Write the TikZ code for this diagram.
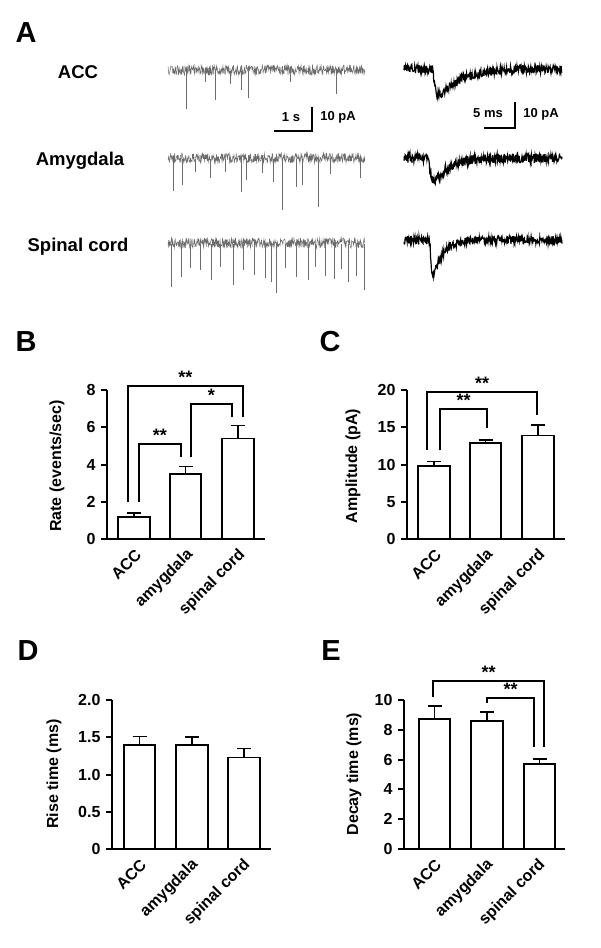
\documentclass[tikz,border=0pt]{standalone}
\usepackage{fontspec}
\setmainfont{Liberation Sans}
\begin{document}
\begin{tikzpicture}[x=1pt,y=-1pt,
  lbl/.style={font=\bfseries\fontsize{29}{31}\selectfont},
  row/.style={font=\bfseries\fontsize{18.5}{20}\selectfont},
  sb/.style={font=\bfseries\fontsize{13}{15}\selectfont},
  tick/.style={font=\bfseries\fontsize{16}{18}\selectfont,anchor=east},
  ylab/.style={font=\bfseries\fontsize{16}{18}\selectfont,rotate=90},
  cat/.style={font=\bfseries\fontsize{16}{18}\selectfont,rotate=45,anchor=east},
  star/.style={font=\bfseries\fontsize{18}{20}\selectfont,anchor=south,inner sep=0pt},
  ax/.style={line width=2pt},
  barl/.style={line width=1.8pt,fill=white},
  brk/.style={line width=1.5pt},
  gtr/.style={gray!85!black,line width=0.5pt},
  btr/.style={black,line width=1.2pt}]
\useasboundingbox (0,0) rectangle (600,948);
\pgfmathsetseed{7}
% ---- panel labels
\node[lbl] (pA) at (26,33) {A};
\node[lbl] (pB) at (26,342) {B};
\node[lbl] (pC) at (330,342) {C};
\node[lbl] (pD) at (28,651) {D};
\node[lbl] (pE) at (331,651) {E};
% ---- row labels
\node[row] (rACC) at (78,72) {ACC};
\node[row] (rAmy) at (80,161) {Amygdala};
\node[row] (rSp) at (78,247) {Spinal cord};
% ---- left traces
\draw[gtr] plot[domain=168:365,samples=500] (\x,{70+10*(rnd-0.5)});
\foreach \a/\d in {186/109,215/100,241/90,248/98,336/94,205/82,290/82,230/84}
  \draw[gtr] (\a,71) -- (\a,\d);
\draw[gtr] plot[domain=168:365,samples=500] (\x,{158+10*(rnd-0.5)});
\foreach \a/\d in {173/191,182/185,241/192,282/210,318/207,296/187,302/185,273/182,246/180,210/178,360/178,195/172,225/172,262/173,330/174}
  \draw[gtr] (\a,159) -- (\a,\d);
\draw[gtr] plot[domain=168:365,samples=500] (\x,{243+10*(rnd-0.5)});
\foreach \a/\d in {171/287,181/277,211/280,233/285,254/275,265/278,276/293,271/282,296/277,308/280,325/276,334/279,348/282,356/276,364/290,190/268,200/270,220/267,243/270,285/268,315/267,341/269}
  \draw[gtr] (\a,244) -- (\a,\d);
% ---- right traces
\draw[btr] plot[domain=404:562,samples=400] (\x,{69+8*(rnd-0.5)+37*exp(-max(\x-433,0)/22)*(1-exp(-max(\x-433,0)/2.5))});
\draw[btr] plot[domain=404:562,samples=400] (\x,{158+9*(rnd-0.5)+40*exp(-max(\x-429,0)/14)*(1-exp(-max(\x-429,0)/2.5))});
\draw[btr] plot[domain=404:562,samples=400] (\x,{240+8*(rnd-0.5)+58*exp(-max(\x-430,0)/9)*(1-exp(-max(\x-430,0)/1.5))});
% ---- scale bars
\coordinate (s1a) at (274,131); \coordinate (s1b) at (312,131); \coordinate (s1c) at (312,107);
\draw[line width=1.5pt] (s1a) -- (s1b) -- (s1c);
\node[sb] (t1s) at (291,117) {1 s};
\node[sb] (t1p) at (338,117) {10 pA};
\coordinate (s2a) at (484,128); \coordinate (s2b) at (515,128); \coordinate (s2c) at (515,102);
\draw[line width=1.5pt] (s2a) -- (s2b) -- (s2c);
\node[sb] (t2s) at (488,113) {5 ms};
\node[sb] (t2p) at (541,114) {10 pA};
% ---- macro for bar
\newcommand\mybar[5]{% left right top err center ; base in \mybase
  \draw[barl] (#1,\mybase) rectangle (#2,#3);
  \draw[line width=1.8pt] (#5,#3) -- (#5,#4) (#5-7,#4) -- (#5+7,#4);}
% ================= B
\def\mybase{539}
\draw[ax] (107,390) -- (107,539) -- (265,539);
\foreach \v/\y in {0/539,2/501.75,4/464.5,6/427.25,8/390}{
  \draw[ax] (101,\y) -- (107,\y); \node[tick] at (99,\y) {\v};}
\mybar{118}{150}{516.6}{512.9}{134}
\mybar{170}{201}{473.8}{466.4}{185.5}
\mybar{222}{254}{438.4}{425.4}{238}
\node[ylab] (yB) at (57,466) {Rate (events/sec)};
\node[cat] at (141,550) {ACC};
\node[cat] at (193,550) {amygdala};
\node[cat] at (245,550) {spinal cord};
\draw[brk] (128,502) -- (128,386) -- (243,386) -- (243,417);
\node[star] at (185.5,384) {**};
\draw[brk] (139,502) -- (139,444) -- (181,444) -- (181,457);
\node[star] at (160,442) {**};
\draw[brk] (191,457) -- (191,404) -- (232,404) -- (232,417);
\node[star] at (211.5,402) {*};
% ================= C
\draw[ax] (407,390) -- (407,539) -- (565,539);
\foreach \v/\y in {0/539,5/501.75,10/464.5,15/427.25,20/390}{
  \draw[ax] (401,\y) -- (407,\y); \node[tick] at (399,\y) {\v};}
\mybar{418}{450}{466}{461.5}{434}
\mybar{470}{501}{442.9}{439.9}{485.5}
\mybar{522}{554}{435.4}{425}{538}
\node[ylab] (yC) at (353,466) {Amplitude (pA)};
\node[cat] at (441,550) {ACC};
\node[cat] at (493,550) {amygdala};
\node[cat] at (545,550) {spinal cord};
\draw[brk] (427,450) -- (427,392) -- (537,392) -- (537,415);
\node[star] at (482,390) {**};
\draw[brk] (440,450) -- (440,409) -- (487,409) -- (487,428);
\node[star] at (463.5,407) {**};
% ================= D
\def\mybase{849}
\draw[ax] (112,700) -- (112,849) -- (271,849);
\foreach \v/\y in {0/849,0.5/811.75,1.0/774.5,1.5/737.25,2.0/700}{
  \draw[ax] (106,\y) -- (112,\y); \node[tick] at (104,\y) {\v};}
\mybar{124}{155}{744.7}{736.5}{139.5}
\mybar{176}{208}{744.7}{737.3}{192}
\mybar{228}{260}{757.4}{748.4}{244}
\node[ylab] (yD) at (54,774) {Rise time (ms)};
\node[cat] at (146,860) {ACC};
\node[cat] at (198,860) {amygdala};
\node[cat] at (250,860) {spinal cord};
% ================= E
\draw[ax] (404,700) -- (404,849) -- (565,849);
\foreach \v/\y in {0/849,2/819.2,4/789.4,6/759.6,8/729.8,10/700}{
  \draw[ax] (398,\y) -- (404,\y); \node[tick] at (396,\y) {\v};}
\mybar{419}{450}{718.6}{706}{434.5}
\mybar{471}{503}{720.9}{711.9}{487}
\mybar{524}{555}{764}{758.9}{539.5}
\node[ylab] (yE) at (354,774) {Decay time (ms)};
\node[cat] at (441,860) {ACC};
\node[cat] at (493,860) {amygdala};
\node[cat] at (545,860) {spinal cord};
\draw[brk] (433,697) -- (433,681) -- (544,681) -- (544,747);
\node[star] at (488.5,679) {**};
\draw[brk] (487,703) -- (487,698) -- (534,698) -- (534,747);
\node[star] at (510.5,696) {**};
\end{tikzpicture}
\end{document}
